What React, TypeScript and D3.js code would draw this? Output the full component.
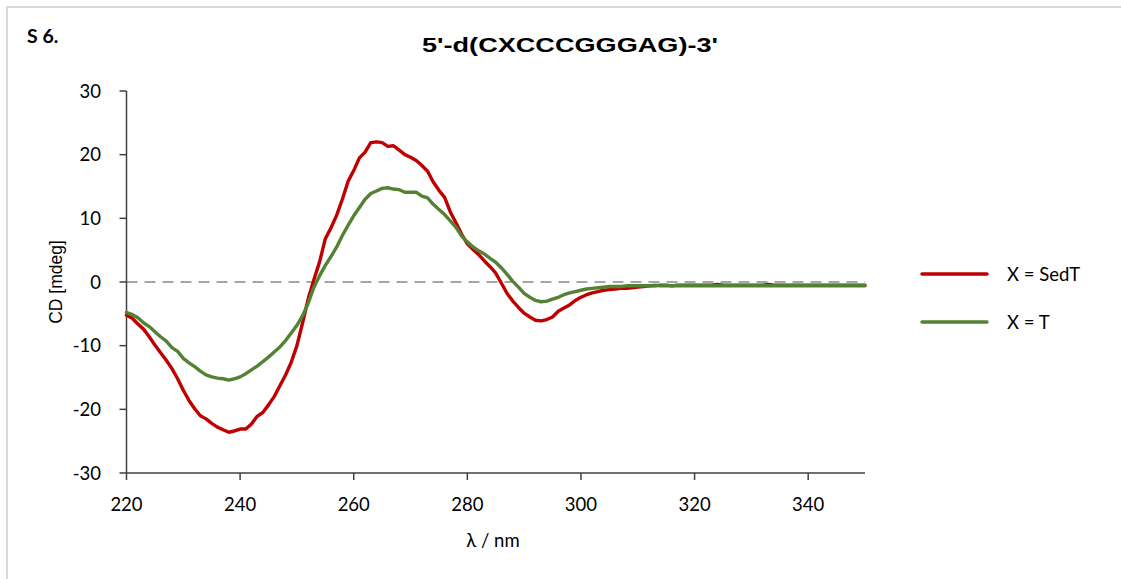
import React from "react";
import * as d3 from "d3";

const wavelengths: number[] = d3.range(220, 351);

const sedT: number[] = [
  -5.2, -5.7, -6.6, -7.4, -8.6, -9.9, -11.1, -12.3, -13.6, -15.2,
  -17.0, -18.6, -19.9, -21.0, -21.5, -22.2, -22.8, -23.2, -23.6, -23.4,
  -23.1, -23.1, -22.3, -21.1, -20.5, -19.3, -18.0, -16.3, -14.6, -12.6,
  -10.0, -6.4, -2.6, 0.4, 3.2, 6.8, 8.5, 10.5, 13.0, 15.8,
  17.5, 19.5, 20.4, 21.9, 22.0, 21.9, 21.3, 21.4, 20.7, 20.0,
  19.6, 19.1, 18.3, 17.4, 15.7, 14.4, 13.3, 11.0, 9.3, 7.5,
  6.0, 5.1, 4.3, 3.3, 2.4, 1.4, -0.2, -1.8, -3.0, -4.0,
  -4.9, -5.5, -6.0, -6.1, -5.9, -5.5, -4.6, -4.1, -3.6, -2.9,
  -2.4, -2.0, -1.7, -1.5, -1.3, -1.2, -1.1, -1.0, -1.0, -0.9,
  -0.8, -0.7, -0.6, -0.6, -0.5, -0.5, -0.6, -0.5, -0.5, -0.5,
  -0.5, -0.5, -0.5, -0.5, -0.4, -0.5, -0.5, -0.5, -0.5, -0.5,
  -0.5, -0.5, -0.5, -0.4, -0.5, -0.5, -0.5, -0.5, -0.5, -0.5,
  -0.5, -0.5, -0.5, -0.5, -0.5, -0.5, -0.5, -0.5, -0.5, -0.5,
  -0.5,
];

const thymine: number[] = [
  -4.8, -5.1, -5.6, -6.4, -7.0, -7.8, -8.6, -9.3, -10.3, -10.9,
  -12.0, -12.7, -13.3, -14.0, -14.6, -14.9, -15.1, -15.2, -15.4, -15.2,
  -14.9, -14.4, -13.8, -13.2, -12.5, -11.8, -11.0, -10.2, -9.2, -8.0,
  -6.8, -5.3, -3.3, -0.8, 1.0, 2.6, 4.0, 5.5, 7.3, 8.9,
  10.4, 11.7, 13.0, 13.9, 14.3, 14.7, 14.8, 14.6, 14.5, 14.1,
  14.1, 14.1, 13.5, 13.2, 12.2, 11.4, 10.6, 9.6, 8.6, 7.2,
  6.3, 5.5, 4.9, 4.4, 3.7, 3.1, 2.2, 1.2, 0.1, -0.8,
  -1.8, -2.4, -2.9, -3.1, -3.0, -2.7, -2.4, -2.0, -1.7, -1.5,
  -1.3, -1.1, -1.0, -0.9, -0.8, -0.7, -0.7, -0.7, -0.6, -0.6,
  -0.6, -0.6, -0.6, -0.5, -0.6, -0.6, -0.6, -0.6, -0.6, -0.6,
  -0.6, -0.6, -0.6, -0.6, -0.6, -0.6, -0.6, -0.6, -0.6, -0.6,
  -0.6, -0.6, -0.6, -0.6, -0.6, -0.6, -0.6, -0.6, -0.6, -0.6,
  -0.6, -0.6, -0.6, -0.6, -0.6, -0.6, -0.6, -0.6, -0.6, -0.6,
  -0.6,
];

const xTicks: number[] = [220, 240, 260, 280, 300, 320, 340];
const yTicks: number[] = [30, 20, 10, 0, -10, -20, -30];

const seriesNames: string[] = ["X = SedT", "X = T"];
const seriesColors: string[] = ["#C00000", "#548235"];

export default function App() {
  const W = 1121;
  const H = 579;
  const x = d3.scaleLinear().domain([220, 350]).range([126.5, 865]);
  const y = d3.scaleLinear().domain([-30, 30]).range([473, 91]);

  const line = d3
    .line<number>()
    .x((_, i) => x(wavelengths[i]))
    .y((d) => y(d))
    .curve(d3.curveLinear);

  const series = [sedT, thymine];
  const axisColor = "#404040";
  const tickFont = "Lato, 'Open Sans', sans-serif";
  const fs = 18.5;

  return (
    <svg
      width={W}
      height={H}
      style={{ position: "fixed", left: 0, top: 0, background: "#fff" }}
    >
      <rect x={0} y={0} width={W} height={H} fill="#fff" />
      <rect x={7} y={7} width={W + 20} height={H + 20} fill="none" stroke="#d9d9d9" strokeWidth={2} />
      <text x={27} y={43} fontFamily={tickFont} fontWeight="bold" fontSize={19.5} fill="#000">
        S 6.
      </text>
      <text
        x={422}
        y={52}
        fontFamily="'Liberation Sans', Arial, sans-serif"
        fontWeight="bold"
        fontSize={21}
        textLength={296}
        lengthAdjust="spacingAndGlyphs"
        fill="#000"
      >
        5'-d(CXCCCGGGAG)-3'
      </text>

      <line
        x1={x(220)}
        x2={x(350)}
        y1={y(0)}
        y2={y(0)}
        stroke="#a6a6a6"
        strokeWidth={2}
        strokeDasharray="11 7"
      />

      <line x1={x(220)} x2={x(220)} y1={y(30)} y2={y(-30)} stroke={axisColor} strokeWidth={1.5} />
      {yTicks.map((t) => (
        <g key={"y" + t}>
          <line x1={x(220) - 7} x2={x(220)} y1={y(t)} y2={y(t)} stroke={axisColor} strokeWidth={1.5} />
          <text
            x={101}
            y={y(t)}
            dy="0.36em"
            textAnchor="end"
            fontFamily={tickFont}
            fontSize={fs}
            fill="#000"
          >
            {t}
          </text>
        </g>
      ))}

      <line x1={x(220)} x2={x(350)} y1={y(-30)} y2={y(-30)} stroke={axisColor} strokeWidth={1.5} />
      {xTicks.map((t) => (
        <g key={"x" + t}>
          <line x1={x(t)} x2={x(t)} y1={y(-30)} y2={y(-30) + 7} stroke={axisColor} strokeWidth={1.5} />
          <text
            x={x(t)}
            y={y(-30) + 38}
            textAnchor="middle"
            fontFamily={tickFont}
            fontSize={fs}
            fill="#000"
          >
            {t}
          </text>
        </g>
      ))}

      <text
        x={493}
        y={547}
        textAnchor="middle"
        fontFamily={tickFont}
        fontSize={fs}
        fill="#000"
      >
        λ / nm
      </text>
      <text
        transform={`translate(62, ${y(0)}) rotate(-90)`}
        textAnchor="middle"
        fontFamily="'Liberation Sans', Arial, sans-serif"
        fontSize={17.5}
        fill="#000"
      >
        CD [mdeg]
      </text>

      {series.map((s, i) => (
        <path
          key={"s" + i}
          d={line(s) || ""}
          fill="none"
          stroke={seriesColors[i]}
          strokeWidth={3.4}
          strokeLinejoin="round"
          strokeLinecap="round"
        />
      ))}

      {seriesNames.map((n, i) => (
        <g key={"l" + i}>
          <line
            x1={922}
            x2={987}
            y1={274 + i * 48}
            y2={274 + i * 48}
            stroke={seriesColors[i]}
            strokeWidth={3.5}
            strokeLinecap="round"
          />
          <text
            x={1007}
            y={274 + i * 48}
            dy="0.36em"
            fontFamily={tickFont}
            fontSize={fs}
            fill="#000"
          >
            {n}
          </text>
        </g>
      ))}
    </svg>
  );
}
